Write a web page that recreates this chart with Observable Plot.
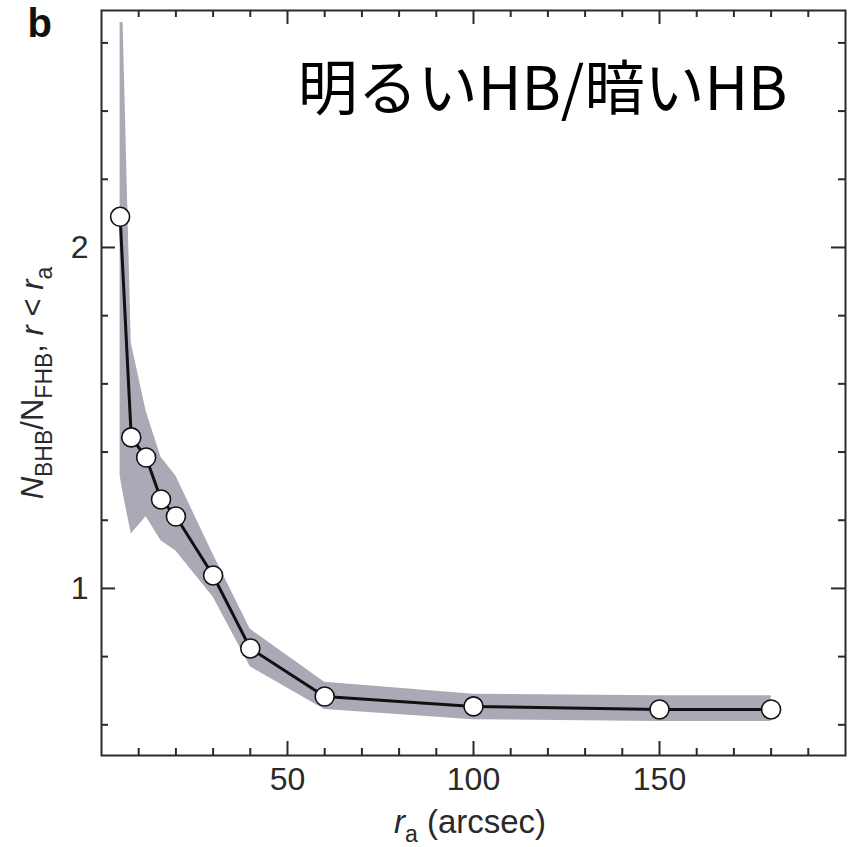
<!DOCTYPE html>
<html>
<head>
<meta charset="utf-8">
<script src="https://cdn.jsdelivr.net/npm/d3@7"></script>
<script src="https://cdn.jsdelivr.net/npm/@observablehq/plot@0.6"></script>
<style>
  body { margin: 0; background: #fff; }
  #chart svg { display: block; }
</style>
</head>
<body>
<div id="chart"></div>
<script>
// Cumulative ratio of bright to faint horizontal-branch stars within radius r_a
const ra    = [5, 8, 12, 16, 20, 30, 40, 60, 100, 150, 180];
const ratio = [2.09, 1.443, 1.384, 1.261, 1.211, 1.038, 0.824, 0.683, 0.654, 0.645, 0.645];

// Uncertainty envelope around the ratio
const bandX    = [5, 5.8, 8, 12, 16, 20, 30, 40, 60, 100, 150, 180];
const bandLow  = [1.33, 1.28, 1.16, 1.21, 1.14, 1.11, 0.975, 0.77, 0.645, 0.615, 0.61, 0.61];
const bandHigh = [2.66, 2.66, 1.72, 1.52, 1.385, 1.33, 1.10, 0.88, 0.725, 0.69, 0.685, 0.685];

// Axis ticks
const xMajor = [50, 100, 150];
const xMinor = [10, 20, 30, 40, 60, 70, 80, 90, 110, 120, 130, 140, 160, 170, 180, 190];
const yMajor = [1, 2];
const yMinor = [0.6, 0.8, 1.2, 1.4, 1.6, 1.8, 2.2, 2.4, 2.6];

const title = "明るいHB/暗いHB";
const panel = "b";

const points = ra.map((x, i) => ({x, y: ratio[i]}));
const band = bandX.map((x, i) => ({x, lo: bandLow[i], hi: bandHigh[i]}));

const W = 852, H = 847;
const mL = 101, mR = 7, mT = 10, mB = 92;
const plotW = W - mL - mR, plotH = H - mT - mB;
const ink = "#2a2a2a";
const majorLen = 14, minorLen = 7;
const latin = "'Liberation Sans', Arial, Helvetica, sans-serif";

const tickStyle = {stroke: ink, strokeWidth: 2};

const chart = Plot.plot({
  width: W,
  height: H,
  marginLeft: mL,
  marginRight: mR,
  marginTop: mT,
  marginBottom: mB,
  style: {fontFamily: latin, background: "#fff", color: ink},
  x: {domain: [0, 200]},
  y: {domain: [0.51, 2.695]},
  marks: [
    Plot.areaY(band, {x: "x", y1: "lo", y2: "hi", fill: "#a9aab6"}),
    Plot.line(points, {x: "x", y: "y", stroke: "#111", strokeWidth: 3}),
    Plot.dot(points, {x: "x", y: "y", r: 9.5, fill: "#fff", stroke: "#111", strokeWidth: 1.6}),

    // inward ticks on all four sides
    Plot.tickX(xMajor, {x: d => d, insetTop: plotH - majorLen, ...tickStyle}),
    Plot.tickX(xMinor, {x: d => d, insetTop: plotH - minorLen, ...tickStyle}),
    Plot.tickX(xMajor, {x: d => d, insetBottom: plotH - majorLen, ...tickStyle}),
    Plot.tickX(xMinor, {x: d => d, insetBottom: plotH - minorLen, ...tickStyle}),
    Plot.tickY(yMajor, {y: d => d, insetRight: plotW - majorLen, ...tickStyle}),
    Plot.tickY(yMinor, {y: d => d, insetRight: plotW - minorLen, ...tickStyle}),
    Plot.tickY(yMajor, {y: d => d, insetLeft: plotW - majorLen, ...tickStyle}),
    Plot.tickY(yMinor, {y: d => d, insetLeft: plotW - minorLen, ...tickStyle}),
    Plot.frame({stroke: ink, strokeWidth: 2}),

    Plot.axisX(xMajor, {tickSize: 0, tickPadding: 12, fontSize: 32, label: null, tickFormat: d => String(d)}),
    Plot.axisY(yMajor, {tickSize: 0, tickPadding: 13, fontSize: 32, label: null, tickFormat: d => String(d)}),

    Plot.text([title], {
      text: d => d, frameAnchor: "top-right", textAnchor: "end", lineAnchor: "bottom",
      dx: -58, dy: 99, fontSize: 60, fill: "#000",
      fontFamily: "'Noto Sans CJK JP', 'Noto Sans', sans-serif"
    }),
    Plot.text([panel], {
      text: d => d, frameAnchor: "top-left", textAnchor: "start", lineAnchor: "bottom",
      dx: -74, dy: 26, fontSize: 40, fontWeight: "bold", fill: "#111"
    })
  ]
});

document.getElementById("chart").appendChild(chart);

// Axis titles with italics and subscripts
const svg = d3.select(chart);

const xt = svg.append("text")
  .attr("x", 470).attr("y", 833)
  .attr("text-anchor", "middle")
  .attr("font-family", latin)
  .attr("font-size", 33)
  .attr("fill", ink);
xt.append("tspan").attr("font-style", "italic").text("r");
xt.append("tspan").attr("font-size", 23).attr("dy", 9).text("a");
xt.append("tspan").attr("dy", -9).text(" (arcsec)");

const yt = svg.append("text")
  .attr("transform", "translate(43,383) rotate(-90)")
  .attr("text-anchor", "middle")
  .attr("font-family", latin)
  .attr("font-size", 31)
  .attr("fill", ink);
yt.append("tspan").attr("font-style", "italic").text("N");
yt.append("tspan").attr("font-size", 23).attr("dy", 9).text("BHB");
yt.append("tspan").attr("dy", -9).text("/N");
yt.append("tspan").attr("font-size", 23).attr("dy", 9).text("FHB");
yt.append("tspan").attr("dy", -9).text(", ");
yt.append("tspan").attr("font-style", "italic").text("r");
yt.append("tspan").text(" < ");
yt.append("tspan").attr("font-style", "italic").text("r");
yt.append("tspan").attr("font-size", 23).attr("dy", 9).text("a");
</script>
</body>
</html>
